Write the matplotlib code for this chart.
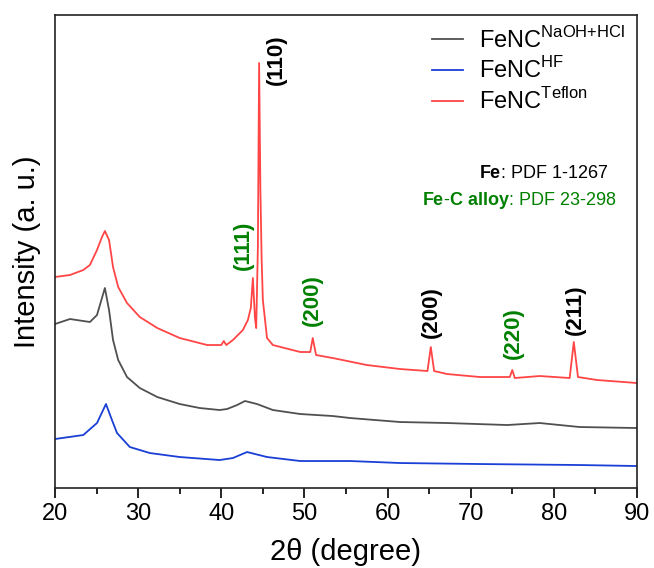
import numpy as np
from matplotlib import pyplot as plt
from matplotlib.ticker import MultipleLocator

plt.rcParams['font.family'] = ['Liberation Sans', 'DejaVu Sans']
plt.rcParams['mathtext.fontset'] = 'custom'
plt.rcParams['mathtext.rm'] = 'Liberation Sans'
plt.rcParams['mathtext.bf'] = 'Liberation Sans:bold'

# FeNC Teflon (red)
x_teflon = [20.0, 21.8, 23.4, 24.2, 25.05, 25.65, 26.0, 26.5, 26.98, 27.6, 28.66, 30.2,
            32.3, 35.0, 38.3, 40.0, 40.3, 40.6, 41.4, 42.6, 43.2, 43.55, 43.8, 44.05,
            44.2, 44.4, 44.55, 44.7, 44.85, 45.0, 45.5, 46.2, 49.5, 50.7, 51.0, 51.4,
            53.4, 57.5, 61.5, 64.8, 65.2, 65.6, 67.15, 71.1, 74.7, 75.0, 75.3, 78.3,
            81.9, 82.4, 82.9, 85.2, 90.0]
y_teflon = [211, 213, 218, 223, 238, 251, 257, 248, 221, 201, 185, 171,
            160, 150, 143, 143, 147, 143, 148, 158, 168, 180, 210, 170,
            160, 240, 425, 300, 230, 188, 150, 143, 136, 136, 150, 133,
            130, 123, 119, 117, 141, 117, 114, 111, 111, 118, 110, 112,
            110, 146, 111, 108, 105]

# FeNC NaOH+HCl (gray)
x_naoh = [20.0, 21.8, 24.2, 25.05, 26.0, 26.5, 26.98, 27.6, 28.66, 30.2, 32.3, 35.0,
          37.4, 39.8, 40.7, 41.9, 42.85, 44.3, 46.2, 49.5, 53.4, 55.5, 61.5, 67.15,
          74.4, 78.3, 83.1, 90.0]
y_naoh = [164, 169, 166, 173, 200, 178, 148, 128, 111, 100, 91, 84,
          80, 78, 79, 83, 87, 84, 78, 74, 72, 70, 66, 65,
          63, 65, 61, 60]

# FeNC HF (blue)
x_hf = [20.0, 23.4, 25.05, 26.13, 26.85, 27.46, 29.0, 31.4, 35.0, 39.8, 41.4, 43.1,
        45.5, 49.5, 55.5, 61.5, 71.1, 83.1, 90.0]
y_hf = [49, 53, 65, 84, 68, 55, 41, 35, 31, 28, 30, 36,
        31, 27, 27, 25, 24, 23, 22]

# peak labels: text, 2theta, height, colour
peak_text = ['(110)', '(111)', '(200)', '(200)', '(220)', '(211)']
peak_x = [46.6, 42.6, 50.9, 65.3, 75.1, 82.6]
peak_y = [428, 243, 188, 176, 155, 178]
peak_col = ['black', 'green', 'green', 'black', 'green', 'black']

fig = plt.figure(figsize=(6.54, 5.68), dpi=100)
ax = fig.add_axes([0.0841, 0.1408, 0.8899, 0.8328])

ax.plot(x_naoh, y_naoh, color='#505050', lw=1.3, label=r'FeNC$^{\mathrm{NaOH{+}HCl}}$')
ax.plot(x_hf, y_hf, color='#1a3fd6', lw=1.3, label=r'FeNC$^{\mathrm{HF}}$')
ax.plot(x_teflon, y_teflon, color='#ff4545', lw=1.3, label=r'FeNC$^{\mathrm{Teflon}}$')

for t, px, py, c in zip(peak_text, peak_x, peak_y, peak_col):
    ax.text(px, py, t, rotation=90, color=c, fontsize=16, fontweight='bold',
            ha='center', va='center')

ax.text(0.95, 0.665, r'$\mathbf{Fe}$: PDF 1-1267', transform=ax.transAxes,
        ha='right', va='center', fontsize=13)
ax.text(0.965, 0.607, r'$\mathbf{Fe\text{-}C\ alloy}$: PDF 23-298', transform=ax.transAxes,
        ha='right', va='center', fontsize=13, color='green')

leg = ax.legend(loc='upper right', frameon=False, fontsize=17, handlelength=1.3,
                handletextpad=0.7, labelspacing=0.2, borderaxespad=0.1)

ax.set_xlim(20, 90)
ax.set_ylim(0, 473)
ax.set_yticks([])
ax.xaxis.set_major_locator(MultipleLocator(10))
ax.xaxis.set_minor_locator(MultipleLocator(5))
ax.tick_params(axis='x', which='major', direction='out', length=7, width=1.2, labelsize=17)
ax.tick_params(axis='x', which='minor', direction='out', length=4, width=1.2)
for s in ax.spines.values():
    s.set_linewidth(1.2)
    s.set_color('#222222')

ax.set_xlabel('2θ (degree)', fontsize=21, labelpad=10)
ax.set_ylabel('Intensity (a. u.)', fontsize=21, labelpad=10)

fig.savefig('out.png', dpi=100)
